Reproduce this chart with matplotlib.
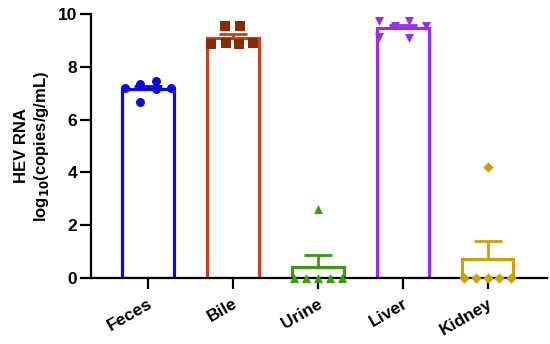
import matplotlib.pyplot as plt
import numpy as np

plt.rcParams['font.family'] = ['Liberation Sans', 'DejaVu Sans']
plt.rcParams['font.weight'] = 'bold'

# group names and colours
groups = ['Feces', 'Bile', 'Urine', 'Liver', 'Kidney']
bar_colors = ['#0c0cd8', '#c0441c', '#3c9a0c', '#9a2cf2', '#c9a20e']
point_colors = ['#0c0cd8', '#8b2a08', '#3c9a0c', '#9a2cf2', '#c9a20e']
markers = ['o', 's', '^', 'v', 'D']

# individual values (log10 copies/g/mL)
feces = [7.2, 7.35, 7.45, 7.15, 7.2, 6.65]
bile = [9.55, 9.55, 8.85, 8.9, 8.85, 8.9]
urine = [0, 0, 2.6, 0, 0, 0]
liver = [9.75, 9.55, 9.75, 9.55, 9.15, 9.1]
kidney = [0, 0, 4.2, 0, 0, 0]

# horizontal jitter of the dots within each bar
feces_dx = [-0.27, -0.09, 0.09, 0.09, 0.27, -0.09]
bile_dx = [-0.09, 0.08, -0.26, -0.08, 0.07, 0.24]
urine_dx = [-0.28, -0.14, 0.0, 0.0, 0.14, 0.28]
liver_dx = [-0.28, -0.09, 0.08, 0.27, -0.28, 0.08]
kidney_dx = [-0.28, -0.14, 0.0, 0.0, 0.14, 0.28]

data = [feces, bile, urine, liver, kidney]
jitter = [feces_dx, bile_dx, urine_dx, liver_dx, kidney_dx]

fig = plt.figure(figsize=(5.5, 3.44), dpi=100)
ax = fig.add_axes([0.1655, 0.192, 0.829, 0.767])

x = np.arange(len(groups))
for i, vals in enumerate(data):
    vals = np.array(vals)
    mean = vals.mean()
    sem = vals.std(ddof=1) / np.sqrt(len(vals))
    ax.bar(x[i], mean, width=0.61, facecolor='white', edgecolor=bar_colors[i],
           linewidth=2.3, zorder=2)
    ax.errorbar(x[i], mean, yerr=[[0], [sem]], color=bar_colors[i], capsize=10,
                elinewidth=2, capthick=2, zorder=3)
    ax.scatter(x[i] + np.array(jitter[i]), vals, marker=markers[i],
               color=point_colors[i], s=42 if markers[i] != 'D' else 28,
               zorder=4, clip_on=False, linewidths=0)

ax.set_xlim(-0.67, 4.7)
ax.set_ylim(0, 10)
ax.set_yticks([0, 2, 4, 6, 8, 10])
ax.set_xticks(x)
ax.set_xticklabels(groups, rotation=30, ha='right', va='top', rotation_mode='anchor')
ax.set_ylabel('HEV RNA\nlog$_\\mathbf{10}$(copies/g/mL)', fontsize=12, fontweight='bold',
              labelpad=5)

for side in ['top', 'right']:
    ax.spines[side].set_visible(False)
for side in ['left', 'bottom']:
    ax.spines[side].set_linewidth(1.6)
ax.tick_params(axis='both', width=1.6, length=8, labelsize=12.5)
ax.tick_params(axis='y', pad=2)
ax.tick_params(axis='x', pad=5)
for lab in ax.get_xticklabels() + ax.get_yticklabels():
    lab.set_fontweight('bold')

fig.savefig('out.png', dpi=100)
